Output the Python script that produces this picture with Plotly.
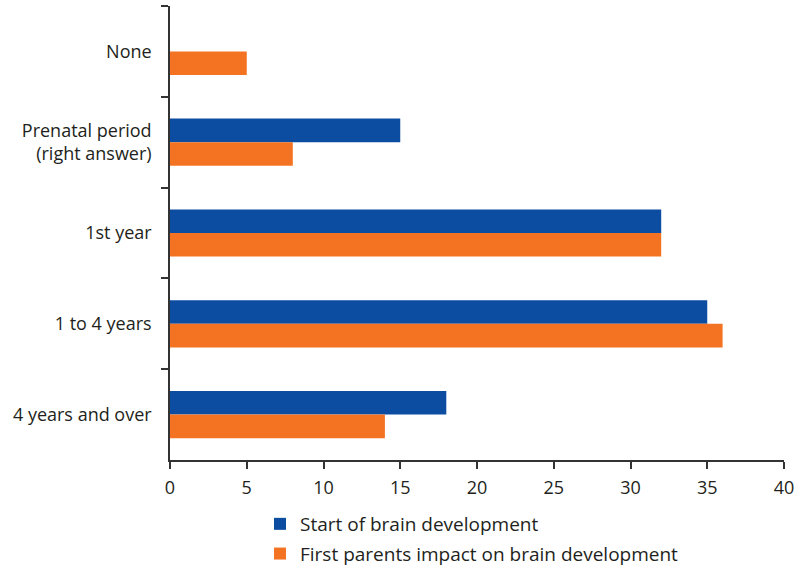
import plotly.graph_objects as go

categories = ["None", "Prenatal period<br>(right answer)", "1st year", "1 to 4 years", "4 years and over"]
start_dev = [0, 15, 32, 35, 18]
parents_impact = [5, 8, 32, 36, 14]
series_names = ["Start of brain development", "First parents impact on brain development"]
x_ticks = [0, 5, 10, 15, 20, 25, 30, 35, 40]

BLUE = "#0c4da2"
ORANGE = "#f47322"
TEXT = "#231f20"
FONT = "Open Sans"

fig = go.Figure()
fig.add_trace(go.Bar(y=categories, x=start_dev, orientation="h", name=series_names[0],
                     marker=dict(color=BLUE, line=dict(width=0)), legendgroup="a"))
fig.add_trace(go.Bar(y=categories, x=parents_impact, orientation="h", name=series_names[1],
                     marker=dict(color=ORANGE, line=dict(width=0)), legendgroup="b"))

fig.update_layout(
    width=797, height=566,
    margin=dict(l=170, r=13, t=6, b=106, autoexpand=False),
    plot_bgcolor="white", paper_bgcolor="white",
    barmode="group", bargap=0.48, bargroupgap=0,
    font=dict(family=FONT, size=18, color=TEXT),
    showlegend=True,
    legend=dict(xref="container", yref="container", x=260 / 797, y=1 - 505 / 566,
                xanchor="left", yanchor="top", orientation="v",
                font=dict(size=19, color=TEXT), tracegroupgap=2,
                bgcolor="rgba(0,0,0,0)"),
)
fig.update_xaxes(range=[0, 40], tickvals=x_ticks, ticks="outside", ticklen=7, tickwidth=1.5,
                 tickcolor="#333333", showline=True, linecolor="#333333", linewidth=1.5,
                 showgrid=False, zeroline=False, tickfont=dict(size=18, color=TEXT),
                 ticklabelstandoff=4, automargin=False)
fig.update_yaxes(autorange="reversed", ticks="outside", tickson="boundaries", ticklen=7, tickwidth=1.5,
                 tickcolor="#333333", showline=True, linecolor="#333333", linewidth=1.5,
                 showgrid=False, zeroline=False, tickfont=dict(size=18, color=TEXT),
                 ticklabelstandoff=13, automargin=False)

fig.write_html("out.html", config={"displayModeBar": False},
               post_script="document.body.style.margin='0';")
